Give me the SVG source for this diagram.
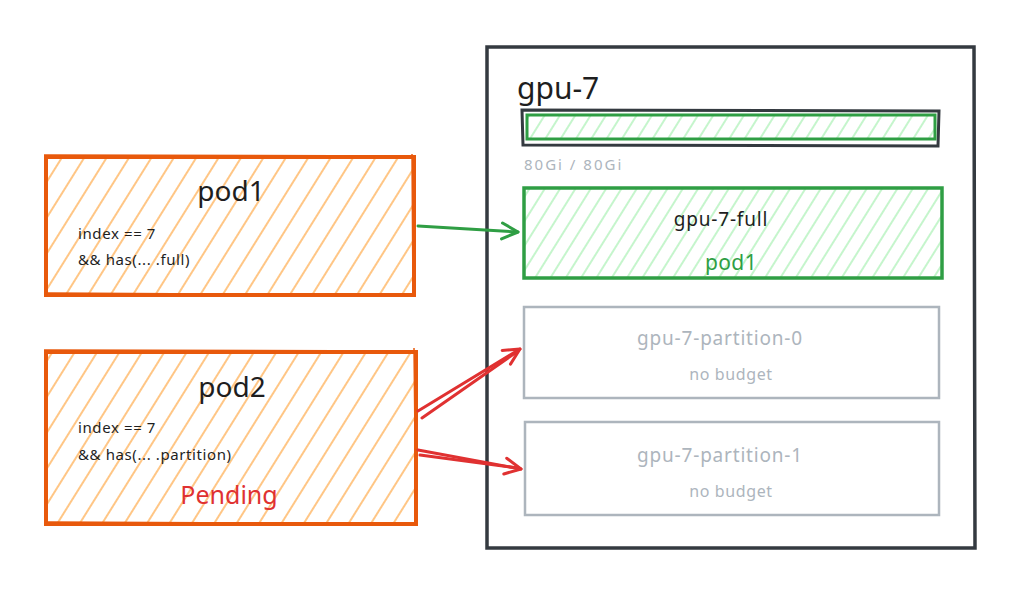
<svg xmlns="http://www.w3.org/2000/svg" width="1024" height="597" viewBox="0 0 1024 597">
<defs>
<pattern id="hOrange" patternUnits="userSpaceOnUse" width="19" height="19" patternTransform="rotate(32)">
<line x1="3" y1="0" x2="3" y2="19" stroke="#ffc078" stroke-width="1.8"/>
</pattern>
<pattern id="hGreen" patternUnits="userSpaceOnUse" width="13" height="13" patternTransform="rotate(32)">
<line x1="3" y1="0" x2="3" y2="13" stroke="#b2f2bb" stroke-width="1.5"/>
</pattern>
<marker id="arrG" viewBox="0 0 20 20" refX="18" refY="10" markerWidth="20" markerHeight="20" markerUnits="userSpaceOnUse" orient="auto">
<path d="M2,2 L18,10 L2,18" fill="none" stroke="#2f9e44" stroke-width="3" stroke-linecap="round" stroke-linejoin="round"/>
</marker>
<marker id="arrR" viewBox="0 0 20 20" refX="18" refY="10" markerWidth="20" markerHeight="20" markerUnits="userSpaceOnUse" orient="auto">
<path d="M2,2 L18,10 L2,18" fill="none" stroke="#e03131" stroke-width="3" stroke-linecap="round" stroke-linejoin="round"/>
</marker>
</defs>
<style>
text{font-family:"Noto Sans","Liberation Sans",sans-serif;}
.pod{fill:url(#hOrange);stroke:#e8590c;stroke-width:4;}
.podS{fill:none;stroke:#e8590c;stroke-width:1.5;}
.title{font-size:28px;fill:#1e1e1e;text-anchor:middle;}
.code{font-size:15px;fill:#1e1e1e;letter-spacing:0.6px;}
.slotG{fill:url(#hGreen);stroke:#2f9e44;stroke-width:3.5;}
.slotX{fill:none;stroke:#adb5bd;stroke-width:2.5;}
.slotT{font-size:19px;text-anchor:middle;letter-spacing:0.8px;}
.sub{font-size:16px;text-anchor:middle;letter-spacing:0.6px;}
.subBig{font-size:21px;text-anchor:middle;letter-spacing:0.4px;}
.conn{fill:none;stroke-width:3;stroke-linecap:round;}
</style>
<rect width="1024" height="597" fill="#ffffff"/>

<g id="gpu-7">
<path d="M487,47 L974,47 L975,548 L487,548 Z" fill="none" stroke="#343a40" stroke-width="3.5"/>
<text x="517" y="99" font-size="30" fill="#1e1e1e">gpu-7</text>
</g>

<g id="bar">
<path d="M522,110 L939,111 L938,146 L523,145 Z" fill="none" stroke="#343a40" stroke-width="3"/>
<rect x="527" y="115" width="408" height="24" fill="url(#hGreen)" stroke="#2f9e44" stroke-width="3"/>
<text x="524" y="170" font-size="15" fill="#adb5bd" letter-spacing="2">80Gi / 80Gi</text>
</g>

<g id="pod1">
<rect class="pod" x="46" y="157" width="368" height="138"/>
<path class="podS" d="M44,155 L416,156 M412,154 L413,297 M48,293 L416,295"/>
<text class="title" x="231" y="201">pod1</text>
<text class="code" x="78" y="239">index == 7</text>
<text class="code" x="78" y="265">&amp;&amp; has(... .full)</text>
</g>

<g id="pod2">
<rect class="pod" x="46" y="352" width="370" height="172"/>
<path class="podS" d="M44,350 L418,351 M414,348 L416,526 M48,522 L418,524"/>
<text class="title" x="232" y="397">pod2</text>
<text class="code" x="78" y="433">index == 7</text>
<text class="code" x="78" y="460">&amp;&amp; has(... .partition)</text>
<text x="229" y="504" font-size="25" fill="#e03131" text-anchor="middle">Pending</text>
</g>

<g id="gpu-7-full">
<rect class="slotG" x="524" y="188" width="418" height="90"/>
<text class="slotT" x="721" y="226" fill="#1e1e1e">gpu-7-full</text>
<text class="subBig" x="731" y="270" fill="#2f9e44">pod1</text>
</g>

<g id="gpu-7-partition-0">
<rect class="slotX" x="524" y="307" width="415" height="91"/>
<text class="slotT" x="720" y="345" fill="#adb5bd">gpu-7-partition-0</text>
<text class="sub" x="731" y="380" fill="#adb5bd">no budget</text>
</g>

<g id="gpu-7-partition-1">
<rect class="slotX" x="525" y="422" width="414" height="93"/>
<text class="slotT" x="720" y="462" fill="#adb5bd">gpu-7-partition-1</text>
<text class="sub" x="731" y="497" fill="#adb5bd">no budget</text>
</g>

<g id="connectors">
<path class="conn" stroke="#2f9e44" d="M418,226 Q470,229 518,232" marker-end="url(#arrG)"/>
<path class="conn" stroke="#e03131" d="M418,411 L520,349" marker-end="url(#arrR)"/>
<path class="conn" stroke="#e03131" d="M422,418 L518,351" stroke-width="2"/>
<path class="conn" stroke="#e03131" d="M418,450 L521,469" marker-end="url(#arrR)"/>
<path class="conn" stroke="#e03131" d="M420,455 L518,468" stroke-width="2"/>
</g>
</svg>
